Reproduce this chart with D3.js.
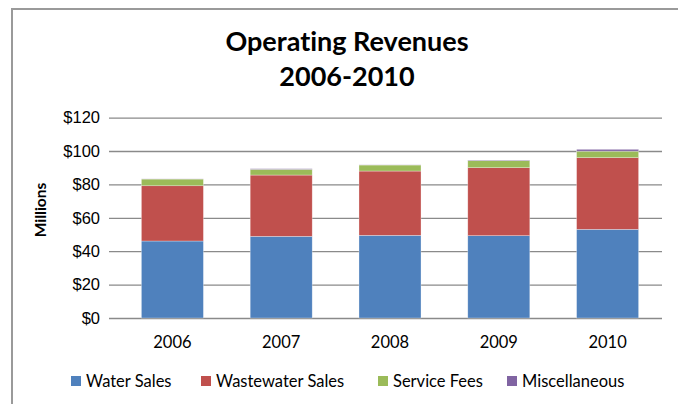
<!DOCTYPE html>
<html>
<head>
<meta charset="utf-8">
<script src="https://cdn.jsdelivr.net/npm/d3@7"></script>
<style>
  body { margin: 0; background: #fff; }
  svg { display: block; font-family: Lato, "Open Sans", sans-serif; font-variant-ligatures: none; }
</style>
</head>
<body>
<div id="chart"></div>
<script>
var years = ['2006', '2007', '2008', '2009', '2010'];
var waterSales = [46.1, 48.9, 49.5, 49.3, 53.1];
var wastewaterSales = [33.1, 36.7, 38.5, 40.7, 42.9];
var serviceFees = [4.0, 3.4, 3.6, 4.2, 3.9];
var miscellaneous = [0.1, 0.4, 0.1, 0.3, 1.1];
var seriesNames = ['Water Sales', 'Wastewater Sales', 'Service Fees', 'Miscellaneous'];
var yTicks = [0, 20, 40, 60, 80, 100, 120];

var colors = ['#4f81bd', '#c0504d', '#9bbb59', '#8064a2'];

var width = 678, height = 404;
var margin = {left: 118, right: 16, top: 117.6, bottom: 86};

var svg = d3.select('#chart')
  .append('svg')
  .attr('width', width)
  .attr('height', height);

// chart frame (only left/top edges are in view)
svg.append('rect')
  .attr('x', 12).attr('y', 9)
  .attr('width', 700).attr('height', 420)
  .attr('fill', '#fff')
  .attr('stroke', '#9a9a9a')
  .attr('stroke-width', 2);

var rows = years.map(function (y, i) {
  return {
    year: y,
    'Water Sales': waterSales[i],
    'Wastewater Sales': wastewaterSales[i],
    'Service Fees': serviceFees[i],
    'Miscellaneous': miscellaneous[i]
  };
});

var x = d3.scaleBand()
  .domain(years)
  .range([margin.left, width - margin.right])
  .paddingInner(0.43)
  .paddingOuter(0.215);

var y = d3.scaleLinear()
  .domain([0, 120])
  .range([height - margin.bottom, margin.top]);

// gridlines + tick marks + labels
var yAxis = svg.append('g')
  .attr('transform', 'translate(' + margin.left + ',0)')
  .call(d3.axisLeft(y)
    .tickValues(yTicks)
    .tickSize(9)
    .tickPadding(9)
    .tickFormat(function (d) { return '$' + d; }));
yAxis.select('.domain').remove();
yAxis.selectAll('line')
  .attr('x1', -9)
  .attr('x2', width - margin.right - margin.left)
  .attr('stroke', '#8a8a8a')
  .attr('stroke-width', 1.3);
yAxis.selectAll('text')
  .attr('fill', '#000')
  .style('font-size', '16.5px');

var stack = d3.stack().keys(seriesNames);
var layers = stack(rows);

svg.append('g')
  .selectAll('g')
  .data(layers)
  .enter()
  .append('g')
  .attr('fill', function (d, i) { return colors[i]; })
  .selectAll('rect')
  .data(function (d) { return d; })
  .enter()
  .append('rect')
  .attr('x', function (d) { return x(d.data.year); })
  .attr('width', x.bandwidth())
  .attr('y', function (d) { return y(d[1]); })
  .attr('height', function (d) { return y(d[0]) - y(d[1]); })
  .attr('stroke', '#fff')
  .attr('stroke-opacity', 0.5)
  .attr('stroke-width', 0.6);

// x labels
svg.append('g')
  .selectAll('text')
  .data(years)
  .enter()
  .append('text')
  .attr('x', function (d) { return x(d) + x.bandwidth() / 2; })
  .attr('y', 348)
  .attr('text-anchor', 'middle')
  .style('font-size', '16.5px')
  .text(function (d) { return d; });

// title
var title = svg.append('text')
  .attr('text-anchor', 'middle')
  .style('font-size', '27px')
  .style('font-weight', 'bold');
title.append('tspan').attr('x', 347).attr('y', 51).text('Operating Revenues');
title.append('tspan').attr('x', 347).attr('y', 86).text('2006-2010');

// y axis title
svg.append('text')
  .attr('transform', 'translate(46,210) rotate(-90)')
  .attr('text-anchor', 'middle')
  .style('font-size', '15.5px')
  .style('font-weight', 'bold')
  .text('Millions');

// legend
var legendX = [71, 201, 378, 507];
var legend = svg.append('g')
  .selectAll('g')
  .data(seriesNames)
  .enter()
  .append('g')
  .attr('transform', function (d, i) { return 'translate(' + legendX[i] + ',376)'; });
legend.append('rect')
  .attr('width', 10).attr('height', 10)
  .attr('fill', function (d, i) { return colors[i]; });
legend.append('text')
  .attr('x', 15).attr('y', 10.5)
  .style('font-size', '16.5px')
  .text(function (d) { return d; });
</script>
</body>
</html>
